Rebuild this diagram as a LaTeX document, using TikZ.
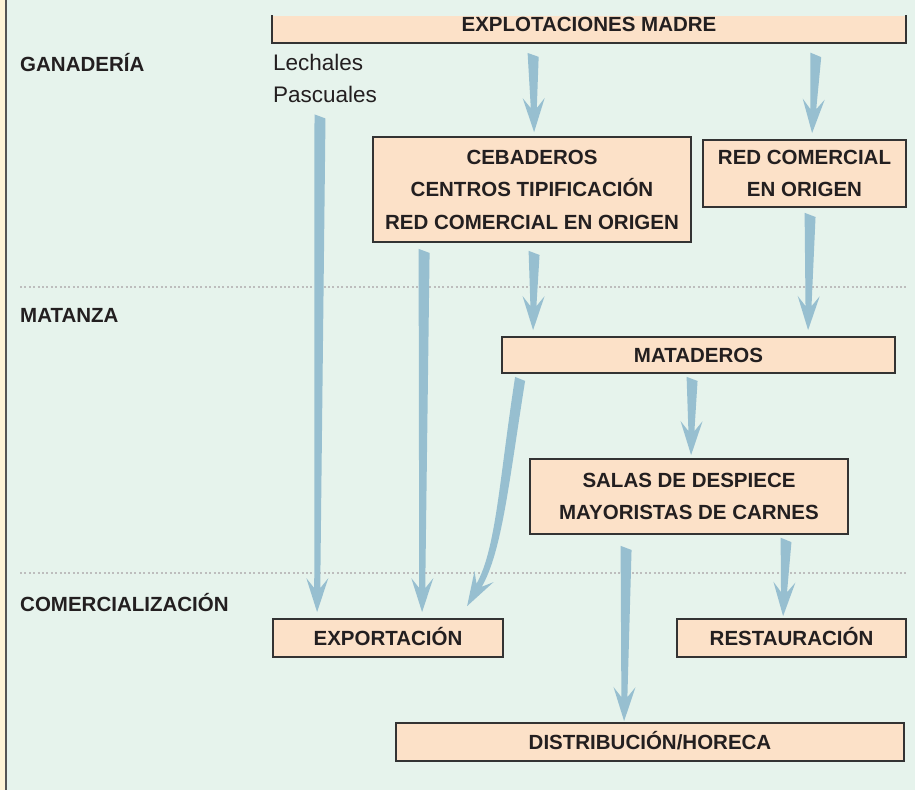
\documentclass[tikz,border=0pt]{standalone}
\usepackage{fontspec}
\setmainfont{Liberation Sans}
\usetikzlibrary{arrows.meta,calc}
\definecolor{bgmint}{HTML}{E6F3EC}
\definecolor{peach}{HTML}{FCE1C8}
\definecolor{boxline}{HTML}{333333}
\definecolor{arrowblue}{HTML}{97BFD0}
\definecolor{ink}{HTML}{231F20}
\definecolor{dotgray}{HTML}{BDBDBD}
\definecolor{cream}{HTML}{FFF4D6}
\definecolor{leftline}{HTML}{555555}
% tapered flow arrow: #1 start, #2 tip
\newcommand\flowarrow[2]{%
  \path #1 coordinate (tA) #2 coordinate (tB);
  \coordinate (tS) at ($(tA)!4pt!(tB)$);
  \coordinate (tJ) at ($(tB)!24pt!(tA)$);
  \coordinate (tH) at ($(tB)!34pt!(tA)$);
  \fill[arrowblue] ($(tA)!5.5pt!-90:(tB)$) -- ($(tJ)!3pt!-90:(tB)$)
    -- ($(tH)!11pt!-90:(tB)$) -- (tB) -- ($(tH)!11pt!90:(tB)$)
    -- ($(tJ)!3pt!90:(tB)$) -- ($(tS)!5.5pt!90:(tB)$) -- cycle;
}
\begin{document}
\begin{tikzpicture}[x=1pt,y=-1pt,
  box/.style={draw=boxline, line width=1.8pt, fill=peach, inner sep=0pt, align=center,
    font=\bfseries\fontsize{20.5}{32.5}\selectfont, text=ink},
  oneline/.style={text height=14.7pt, text depth=0pt},
  sect/.style={anchor=base west, font=\bfseries\fontsize{20.5}{24}\selectfont, text=ink, inner sep=0pt},
  plain/.style={anchor=base west, font=\fontsize{22.5}{26}\selectfont, text=ink, inner sep=0pt},
  sepline/.style={draw=dotgray, line width=2pt, dash pattern=on 2pt off 2.4pt}]
\useasboundingbox (0,0) rectangle (915,790);
\fill[bgmint] (0,0) rectangle (915,790);
\fill[cream] (0,0) rectangle (5,790);
\draw[leftline, line width=2pt] (6,0) -- (6,790);

% separators
\draw[sepline] (20,287) -- (907,287);
\draw[sepline] (20,573) -- (907,573);

% section labels
\node[sect] (gan) at (20,71) {GANADERÍA};
\node[sect] (matz) at (20,322) {MATANZA};
\node[sect] (com) at (20,611) {COMERCIALIZACIÓN};
\node[plain] (lec) at (273,70) {Lechales};
\node[plain] (pas) at (273,102) {Pascuales};

% boxes
\node[box, draw=none, minimum width=632pt, minimum height=26pt] (exp) at (589,29) {};
\draw[boxline, line width=1.8pt] (exp.north west) |- (exp.south east) -- (exp.north east);
\node[anchor=base, inner sep=0pt, font=\bfseries\fontsize{20.5}{24}\selectfont, text=ink] (expt) at (589,31) {EXPLOTACIONES MADRE};

\node[box, minimum width=318pt, minimum height=105pt] (ceb) at (532,189.5)
  {CEBADEROS\\CENTROS TIPIFICACIÓN\\RED COMERCIAL EN ORIGEN};
\node[box, minimum width=203pt, minimum height=67pt] (rco) at (804.5,173.5)
  {RED COMERCIAL\\EN ORIGEN};
\node[box, oneline, minimum width=393pt, minimum height=36pt] (mat) at (698.5,355) {MATADEROS};
\node[box, minimum width=318pt, minimum height=75pt] (sal) at (689,496.5)
  {SALAS DE DESPIECE\\MAYORISTAS DE CARNES};
\node[box, oneline, minimum width=230pt, minimum height=38pt] (expo) at (388,638) {EXPORTACIÓN};
\node[box, oneline, minimum width=229pt, minimum height=38pt] (res) at (791.5,638) {RESTAURACIÓN};
\node[box, oneline, minimum width=508pt, minimum height=38pt] (dis) at (650,742) {DISTRIBUCIÓN/HORECA};

% flows
\flowarrow{($(exp.south west)+(261,10)$)}{($(ceb.north west)+(162,-4)$)}
\flowarrow{($(exp.south east)+(-90,10)$)}{($(rco.north west)+(110,-6)$)}
\flowarrow{($(pas.south west)+(47,12)$)}{($(expo.north west)+(45,-6)$)}
\flowarrow{($(ceb.south west)+(52,6)$)}{($(expo.north west)+(150,-6)$)}
\flowarrow{($(ceb.south west)+(162,8)$)}{($(mat.north west)+(32,-6)$)}
\flowarrow{($(rco.south west)+(108,5)$)}{($(mat.north west)+(307,-6)$)}
\flowarrow{($(mat.south west)+(191,3)$)}{($(sal.north west)+(162,-3)$)}
\flowarrow{($(sal.south west)+(97,11)$)}{($(dis.north west)+(229,-1)$)}
\flowarrow{($(sal.south west)+(257,3)$)}{($(res.north west)+(107,-2)$)}

% curved flow: mataderos -> exportacion
\coordinate (m7s) at ($(mat.south west)+(19,4)$);
\coordinate (m7e) at ($(expo.north west)+(195,-12)$);
\fill[arrowblue] ($(m7s)+(-5,-1)$)
  .. controls ($(m7s)+(-21,103)$) and ($(m7e)+(29,-57.5)$) .. ($(m7e)+(9.4,-22.3)$)
  -- ($(m7e)+(7.4,-35)$) -- (m7e) -- ($(m7e)+(26.4,-24)$) -- ($(m7e)+(14.6,-19.3)$)
  .. controls ($(m7e)+(35,-54.5)$) and ($(m7s)+(-11,103)$) .. ($(m7s)+(5,3)$) -- cycle;
\end{tikzpicture}
\end{document}
